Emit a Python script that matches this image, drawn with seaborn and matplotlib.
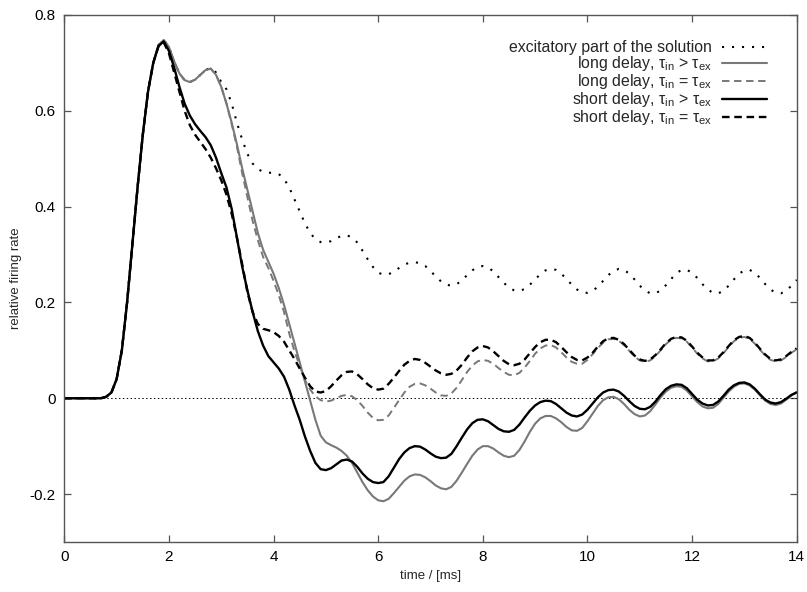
import numpy as np
import pandas as pd
import matplotlib
matplotlib.use("Agg")
import matplotlib.pyplot as plt
import seaborn as sns

# ---------------- data ----------------
TIME = np.round(np.arange(0, 14.05, 0.1), 1)

EXCIT = [
    0, 0, 0, 0, 0, 0, 0, 0, 0.003, 0.012,
    0.04, 0.10, 0.20, 0.32, 0.44, 0.55, 0.64, 0.70, 0.737, 0.748,
    0.733, 0.703, 0.678, 0.664, 0.660, 0.665, 0.675, 0.685, 0.69, 0.68,
    0.66, 0.645, 0.615, 0.575, 0.54, 0.51, 0.49, 0.478, 0.473, 0.471,
    0.47, 0.468, 0.458, 0.44, 0.415, 0.39, 0.365, 0.345, 0.332, 0.326,
    0.325, 0.328, 0.334, 0.339, 0.34, 0.336, 0.325, 0.308, 0.29, 0.274,
    0.262, 0.258, 0.259, 0.264, 0.272, 0.279, 0.283, 0.284, 0.282, 0.276,
    0.266, 0.254, 0.244, 0.237, 0.235, 0.238, 0.246, 0.257, 0.267, 0.274,
    0.276, 0.273, 0.265, 0.253, 0.241, 0.231, 0.225, 0.224, 0.228, 0.237,
    0.248, 0.259, 0.267, 0.27, 0.268, 0.26, 0.249, 0.237, 0.227, 0.221,
    0.22, 0.224, 0.233, 0.245, 0.257, 0.266, 0.27, 0.268, 0.26, 0.248,
    0.235, 0.225, 0.219, 0.219, 0.225, 0.236, 0.249, 0.261, 0.268, 0.268,
    0.262, 0.251, 0.238, 0.227, 0.22, 0.219, 0.224, 0.235, 0.248, 0.26,
    0.267, 0.268, 0.262, 0.251, 0.238, 0.227, 0.22, 0.219, 0.224, 0.235,
    0.247,
]

LONG_GT = [
    0, 0, 0, 0, 0, 0, 0, 0, 0.003, 0.012,
    0.04, 0.10, 0.20, 0.32, 0.44, 0.55, 0.64, 0.70, 0.737, 0.748,
    0.733, 0.703, 0.678, 0.664, 0.660, 0.665, 0.675, 0.685, 0.688, 0.675,
    0.65, 0.615, 0.575, 0.53, 0.48, 0.435, 0.39, 0.345, 0.31, 0.285,
    0.26, 0.23, 0.195, 0.155, 0.115, 0.075, 0.035, -0.005, -0.045, -0.078,
    -0.092, -0.098, -0.103, -0.110, -0.120, -0.135, -0.155, -0.175, -0.192, -0.205,
    -0.213, -0.215, -0.21, -0.198, -0.185, -0.172, -0.163, -0.159, -0.16, -0.165,
    -0.173, -0.182, -0.188, -0.19, -0.185, -0.172, -0.155, -0.137, -0.12, -0.107,
    -0.1, -0.1, -0.105, -0.113, -0.12, -0.123, -0.12, -0.108, -0.09, -0.07,
    -0.053, -0.042, -0.037, -0.037, -0.042, -0.05, -0.06, -0.067, -0.068, -0.062,
    -0.048, -0.032, -0.016, -0.004, 0.002, 0.003, -0.002, -0.012, -0.024, -0.033,
    -0.038, -0.036, -0.027, -0.013, 0.002, 0.014, 0.022, 0.025, 0.024, 0.016,
    0.004, -0.008, -0.017, -0.021, -0.02, -0.012, 0.001, 0.014, 0.024, 0.03,
    0.031, 0.027, 0.018, 0.006, -0.005, -0.012, -0.014, -0.011, -0.003, 0.006,
    0.013,
]

LONG_EQ = [
    0, 0, 0, 0, 0, 0, 0, 0, 0.003, 0.012,
    0.04, 0.10, 0.20, 0.32, 0.44, 0.55, 0.64, 0.70, 0.737, 0.748,
    0.733, 0.703, 0.678, 0.664, 0.660, 0.665, 0.675, 0.685, 0.688, 0.675,
    0.65, 0.615, 0.572, 0.525, 0.47, 0.42, 0.37, 0.33, 0.295, 0.272,
    0.245, 0.215, 0.18, 0.135, 0.098, 0.068, 0.038, 0.018, 0.004, -0.004,
    -0.007, -0.005, 0.0, 0.005, 0.007, 0.004, -0.004, -0.016, -0.03, -0.041,
    -0.046, -0.045, -0.036, -0.02, -0.004, 0.012, 0.024, 0.03, 0.031, 0.027,
    0.02, 0.012, 0.006, 0.005, 0.01, 0.022, 0.038, 0.055, 0.068, 0.077,
    0.08, 0.078, 0.072, 0.063, 0.055, 0.049, 0.048, 0.053, 0.064, 0.078,
    0.093, 0.104, 0.11, 0.111, 0.106, 0.096, 0.085, 0.076, 0.072, 0.072,
    0.08, 0.092, 0.105, 0.116, 0.123, 0.124, 0.12, 0.111, 0.099, 0.087,
    0.079, 0.076, 0.079, 0.088, 0.1, 0.113, 0.122, 0.126, 0.125, 0.118,
    0.106, 0.093, 0.083, 0.077, 0.077, 0.083, 0.094, 0.107, 0.119, 0.126,
    0.128, 0.124, 0.114, 0.101, 0.089, 0.08, 0.077, 0.079, 0.086, 0.095,
    0.102,
]

SHORT_GT = [
    0, 0, 0, 0, 0, 0, 0, 0, 0.003, 0.012,
    0.04, 0.10, 0.20, 0.32, 0.44, 0.55, 0.64, 0.70, 0.735, 0.745,
    0.725, 0.69, 0.65, 0.615, 0.59, 0.572, 0.558, 0.545, 0.528, 0.502,
    0.47, 0.44, 0.395, 0.335, 0.275, 0.225, 0.18, 0.14, 0.11, 0.088,
    0.075, 0.062, 0.045, 0.018, -0.015, -0.045, -0.08, -0.11, -0.135, -0.148,
    -0.15, -0.146, -0.138, -0.13, -0.128, -0.132, -0.143, -0.157, -0.168, -0.175,
    -0.177, -0.175, -0.163, -0.145, -0.127, -0.113, -0.104, -0.1, -0.101, -0.107,
    -0.115, -0.122, -0.125, -0.124, -0.116, -0.1, -0.082, -0.065, -0.052, -0.045,
    -0.044, -0.048, -0.056, -0.064, -0.069, -0.07, -0.066, -0.055, -0.04, -0.026,
    -0.015, -0.008, -0.005, -0.006, -0.012, -0.021, -0.03, -0.036, -0.038, -0.034,
    -0.024, -0.011, 0.002, 0.012, 0.017, 0.018, 0.014, 0.005, -0.006, -0.016,
    -0.022, -0.023, -0.018, -0.007, 0.007, 0.019, 0.026, 0.029, 0.028, 0.021,
    0.009, -0.003, -0.011, -0.015, -0.014, -0.007, 0.005, 0.018, 0.027, 0.032,
    0.033, 0.029, 0.02, 0.008, -0.003, -0.009, -0.011, -0.008, -0.001, 0.007,
    0.012,
]

SHORT_EQ = [
    0, 0, 0, 0, 0, 0, 0, 0, 0.003, 0.012,
    0.04, 0.10, 0.20, 0.32, 0.44, 0.55, 0.64, 0.70, 0.735, 0.743,
    0.72, 0.68, 0.64, 0.60, 0.57, 0.55, 0.535, 0.52, 0.502, 0.48,
    0.455, 0.425, 0.385, 0.335, 0.28, 0.222, 0.18, 0.155, 0.145, 0.142,
    0.138, 0.13, 0.118, 0.1, 0.082, 0.062, 0.043, 0.025, 0.014, 0.012,
    0.015, 0.025, 0.037, 0.048, 0.055, 0.056, 0.05, 0.04, 0.029, 0.021,
    0.018, 0.02, 0.03, 0.043, 0.057, 0.07, 0.078, 0.082, 0.08, 0.074,
    0.066, 0.058, 0.052, 0.049, 0.051, 0.058, 0.07, 0.085, 0.098, 0.106,
    0.109, 0.106, 0.098, 0.088, 0.078, 0.071, 0.069, 0.072, 0.081, 0.094,
    0.107, 0.117, 0.122, 0.122, 0.117, 0.107, 0.096, 0.086, 0.08, 0.079,
    0.085, 0.095, 0.108, 0.119, 0.125, 0.126, 0.122, 0.113, 0.101, 0.089,
    0.081, 0.078, 0.081, 0.09, 0.102, 0.115, 0.124, 0.128, 0.127, 0.12,
    0.108, 0.095, 0.085, 0.079, 0.079, 0.085, 0.096, 0.109, 0.121, 0.128,
    0.13, 0.126, 0.116, 0.103, 0.091, 0.082, 0.079, 0.081, 0.088, 0.097,
    0.104,
]

LABELS = [
    "excitatory part of the solution",
    "long delay, τ$_\\mathrm{in}$ > τ$_\\mathrm{ex}$",
    "long delay, τ$_\\mathrm{in}$ = τ$_\\mathrm{ex}$",
    "short delay, τ$_\\mathrm{in}$ > τ$_\\mathrm{ex}$",
    "short delay, τ$_\\mathrm{in}$ = τ$_\\mathrm{ex}$",
]
X_TICKS = [0, 2, 4, 6, 8, 10, 12, 14]
Y_TICKS = [-0.2, 0, 0.2, 0.4, 0.6, 0.8]
Y_TICKLABELS = ["-0.2", "0", "0.2", "0.4", "0.6", "0.8"]

# ---------------- styling ----------------
sns.set_theme(style="white")
plt.rcParams["font.family"] = ["Liberation Sans", "DejaVu Sans"]
plt.rcParams["mathtext.fontset"] = "custom"
plt.rcParams["mathtext.rm"] = "Liberation Sans"
plt.rcParams["mathtext.it"] = "Liberation Sans:italic"
plt.rcParams["mathtext.bf"] = "Liberation Sans:bold"

GRAY = "#787878"
STYLES = [
    dict(color="black", linewidth=1.5, linestyle=(0, (1, 3.8))),
    dict(color=GRAY, linewidth=1.5, linestyle="-"),
    dict(color=GRAY, linewidth=1.4, linestyle=(0, (3.8, 2.4))),
    dict(color="black", linewidth=1.7, linestyle="-"),
    dict(color="black", linewidth=1.7, linestyle=(0, (3.2, 2.0))),
]
SERIES = [EXCIT, LONG_GT, LONG_EQ, SHORT_GT, SHORT_EQ]

fig = plt.figure(figsize=(8.07, 5.92), dpi=100)
ax = fig.add_axes([0.0797, 0.0845, 0.9075, 0.8902])

ax.axhline(0, color="black", linewidth=0.7, linestyle=(0, (1.5, 2.5)), zorder=1)

for vals, lab, st in zip(SERIES, LABELS, STYLES):
    df = pd.DataFrame({"t": TIME, "v": vals})
    sns.lineplot(data=df, x="t", y="v", ax=ax, estimator=None, label=lab,
                 zorder=2, **st)

ax.set_xlim(0, 14)
ax.set_ylim(-0.3, 0.8)
ax.set_xticks(X_TICKS)
ax.set_xticklabels([str(v) for v in X_TICKS])
ax.set_yticks(Y_TICKS)
ax.set_yticklabels(Y_TICKLABELS)
ax.tick_params(direction="in", length=5, width=0.9, color="#555555",
               top=True, right=True, bottom=True, left=True,
               labelsize=11, labelcolor="black", pad=6)
for sp in ax.spines.values():
    sp.set_visible(True)
    sp.set_color("#555555")
    sp.set_linewidth(1.0)

ax.set_xlabel("time / [ms]", fontsize=9.5, labelpad=4)
ax.set_ylabel("relative firing rate", fontsize=9.5, labelpad=6)

handles, labels = ax.get_legend_handles_labels()
leg = ax.legend(handles, labels, loc="upper right", bbox_to_anchor=(0.9594, 0.952),
                frameon=False, markerfirst=False, fontsize=11.4,
                handlelength=2.85, handletextpad=0.63, labelspacing=-0.06,
                borderpad=0, borderaxespad=0)

fig.savefig("out.png", dpi=100)
